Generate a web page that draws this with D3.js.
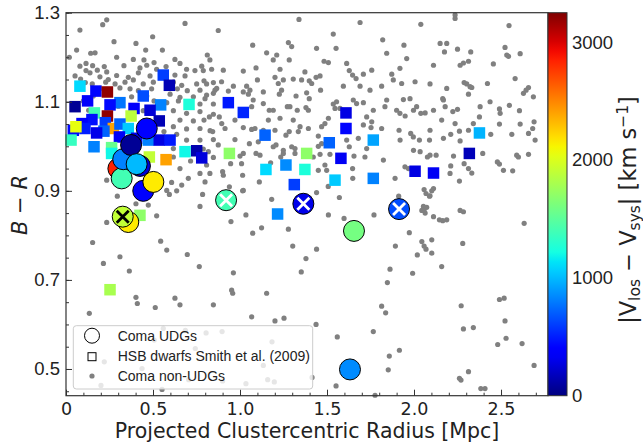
<!DOCTYPE html>
<html>
<head>
<meta charset="utf-8">
<script src="https://cdn.jsdelivr.net/npm/d3@7"></script>
<style>
  body { margin: 0; background: #fff; }
</style>
</head>
<body>
<svg width="643" height="446"></svg>
<script>
// Coma UDGs: radius [Mpc], B-R colour, |Vlos - Vsys| [km/s], cross marker
const udgR     = [0.301, 0.320, 0.329, 0.464, 0.374, 0.425, 0.406, 0.444, 0.502, 0.358, 0.326, 0.920, 1.364, 1.914, 1.655, 1.632];
const udgBR    = [0.950, 0.928, 0.971, 1.040, 1.003, 0.956, 0.960, 0.900, 0.920, 0.830, 0.842, 0.879, 0.871, 0.859, 0.810, 0.499];
const udgDv    = [2850, 1400, 820, 400, 60, 250, 1000, 380, 2150, 2150, 1900, 1400, 300, 650, 1600, 850];
const udgCross = ["", "", "", "", "", "", "", "", "", "", "black", "white", "white", "white", "", ""];

// HSB dwarfs, Smith et al. (2009)
const hsbR  = [0.080, 0.559, 0.594, 0.172, 0.238, 0.124, 0.052, 0.310, 0.444, 0.253, 0.544, 0.707, 0.163, 0.238, 0.391,
               0.374, 0.483, 0.149, 0.092, 0.042, 0.109, 0.226, 0.272, 0.310, 0.358, 0.218, 0.536, 0.029, 0.057, 0.307,
               0.406, 0.473, 0.536, 0.598, 0.161, 0.262, 0.262, 0.684, 0.751, 0.780, 0.479, 0.575, 0.425, 0.253, 0.176,
               0.933, 1.019, 1.144, 0.939, 1.383, 1.149, 1.264, 1.373, 1.312, 1.609, 1.609, 1.513, 1.580, 1.766, 1.546,
               1.766, 2.006, 2.376, 2.318, 2.112, 1.216];
const hsbBR = [1.135, 1.160, 1.137, 1.124, 1.122, 1.102, 1.089, 1.098, 1.113, 1.093, 1.093, 1.094, 1.075, 1.068, 1.085,
               1.068, 1.081, 1.060, 1.051, 1.036, 1.040, 1.053, 1.040, 1.050, 1.040, 1.034, 1.057, 1.014, 1.044, 1.021,
               1.018, 1.014, 1.014, 1.014, 0.999, 0.997, 0.984, 0.988, 0.990, 0.974, 0.976, 0.970, 0.845, 0.678, 1.030,
               1.098, 1.076, 1.025, 0.984, 0.984, 0.948, 0.958, 0.948, 0.914, 1.075, 1.040, 1.008, 0.973, 1.014, 0.924,
               0.928, 0.944, 1.030, 0.984, 0.940, 0.848];
const hsbDv = [1100, 600, 150, 420, 3200, 350, 60, 780, 650, 430, 820, 1250, 1400, 3200, 350,
               1880, 250, 450, 380, 430, 500, 600, 2400, 720, 1050, 720, 150, 1350, 2050, 330,
               300, 820, 280, 480, 820, 1550, 1200, 1200, 130, 260, 1900, 2400, 1700, 1800, 300,
               480, 520, 720, 1700, 1700, 1100, 850, 1250, 600, 280, 420, 720, 330, 930, 1050,
               820, 280, 980, 160, 330, 850];

// Coma non-UDGs: [radius, B-R]
const nonUdg = [
  [0.234,1.284],[0.211,1.273],[0.080,1.261],[0.684,1.276],[0.498,1.246],[0.276,1.235],[0.402,1.231],[0.061,1.216],
  [0.458,1.216],[0.554,1.216],[0.142,1.209],[0.167,1.210],[0.019,1.200],[0.291,1.200],[0.387,1.195],[0.448,1.194],
  [0.506,1.188],[0.626,1.195],[0.080,1.180],[0.115,1.186],[0.153,1.181],[0.180,1.171],[0.115,1.170],[0.138,1.165],
  [0.220,1.179],[0.234,1.167],[0.333,1.181],[0.425,1.176],[0.464,1.182],[0.521,1.173],[0.575,1.179],[0.655,1.186],
  [0.693,1.173],[0.741,1.170],[0.789,1.170],[0.837,1.173],[0.052,1.158],[0.084,1.151],[0.195,1.156],[0.243,1.150],
  [0.291,1.159],[0.358,1.155],[0.416,1.165],[0.483,1.158],[0.626,1.160],[0.684,1.158],[0.111,1.143],[0.151,1.140],
  [0.228,1.144],[0.282,1.140],[0.339,1.144],[0.387,1.149],[0.444,1.140],[0.502,1.144],[0.617,1.144],[0.665,1.137],
  [0.751,1.140],[0.808,1.140],[0.195,1.130],[0.310,1.131],[0.368,1.129],[0.416,1.125],[0.492,1.129],[0.640,1.129],
  [0.697,1.125],[0.770,1.126],[0.847,1.119],[0.157,1.113],[0.377,1.111],[0.464,1.113],[0.598,1.117],[0.655,1.110],
  [0.732,1.111],[0.100,1.102],[0.506,1.102],[0.579,1.098],[0.646,1.102],[0.770,1.095],[0.847,1.095],[0.130,1.081],
  [0.301,1.090],[0.444,1.080],[0.617,1.080],[0.693,1.074],[0.770,1.078],[0.847,1.072],[0.655,1.059],[0.732,1.057],
  [0.793,1.059],[0.617,1.044],[0.693,1.039],[0.770,1.040],[0.828,1.035],[0.563,1.033],[0.636,1.027],[0.693,1.014],
  [0.770,1.014],[0.847,1.015],[0.617,0.995],[0.789,0.994],[0.617,0.976],[0.716,0.967],[0.847,0.975],[0.808,0.958],
  [0.655,0.950],[0.770,0.939],[0.703,0.928],[0.607,0.919],[0.665,0.913],[0.579,0.901],[0.234,0.924],[0.310,0.913],
  [0.521,0.924],
  [1.339,1.285],[1.690,1.278],[0.875,1.260],[1.536,1.252],[1.820,1.239],[1.073,1.227],[1.942,1.227],[1.278,1.233],
  [1.297,1.224],[1.440,1.220],[1.552,1.220],[1.153,1.210],[1.211,1.205],[0.812,1.205],[0.827,1.194],[1.191,1.194],
  [1.283,1.194],[1.483,1.191],[1.508,1.188],[1.843,1.209],[1.958,1.197],[1.613,1.186],[1.628,1.170],[0.780,1.180],
  [0.904,1.171],[1.019,1.169],[1.092,1.176],[1.230,1.173],[1.373,1.167],[1.460,1.158],[1.647,1.160],[1.667,1.152],
  [1.709,1.162],[1.757,1.171],[1.872,1.162],[1.881,1.149],[1.919,1.175],[0.793,1.147],[0.847,1.143],[0.894,1.145],
  [0.962,1.135],[1.038,1.135],[1.057,1.126],[1.048,1.117],[1.019,1.122],[1.100,1.149],[1.201,1.155],[1.220,1.141],
  [1.249,1.149],[1.239,1.126],[1.306,1.151],[1.354,1.149],[1.398,1.147],[1.412,1.141],[1.437,1.155],[1.594,1.135],
  [1.690,1.135],[1.747,1.126],[1.814,1.135],[1.929,1.141],[2.006,1.145],[0.856,1.126],[0.866,1.130],[0.808,1.115],
  [0.799,1.107],[0.933,1.124],[1.134,1.122],[1.226,1.117],[1.322,1.113],[1.383,1.120],[1.398,1.107],[1.463,1.126],
  [1.536,1.095],[1.555,1.100],[1.575,1.085],[1.546,1.085],[1.651,1.104],[1.670,1.096],[1.709,1.098],[1.766,1.081],
  [1.843,1.104],[1.833,1.089],[1.900,1.081],[1.919,1.074],[1.977,1.107],[2.015,1.089],[1.076,1.104],[1.067,1.089],
  [1.134,1.096],[1.168,1.081],[1.191,1.081],[1.272,1.089],[1.287,1.089],[1.329,1.081],[1.379,1.087],[1.393,1.081],
  [0.824,1.066],[0.881,1.066],[0.895,1.051],[0.971,1.059],[1.163,1.059],[1.230,1.063],[1.306,1.059],[1.508,1.063],
  [1.488,1.051],[1.469,1.044],[1.728,1.066],[1.757,1.055],[1.709,1.048],[1.814,1.040],[0.843,1.033],[0.914,1.040],
  [1.019,1.042],[1.067,1.038],[1.086,1.040],[1.134,1.036],[1.201,1.036],[1.264,1.025],[1.283,1.033],[1.345,1.044],
  [1.335,1.033],[1.393,1.040],[1.450,1.023],[1.613,1.014],[1.680,1.018],[1.753,1.042],[1.914,1.036],[1.981,1.029],
  [1.996,1.021],[0.971,1.015],[1.054,1.006],[1.105,1.010],[1.191,0.999],[1.207,1.003],[1.249,0.991],[1.297,0.999],
  [1.316,0.995],[1.450,1.000],[1.469,1.006],[1.628,0.999],[1.728,0.995],[0.818,0.988],[0.875,1.003],[1.019,0.984],
  [1.000,0.978],[1.092,0.984],[1.115,0.980],[1.234,0.976],[1.249,0.984],[1.316,0.984],[1.421,0.976],[1.460,0.982],
  [1.517,0.982],[1.655,0.978],[1.718,0.976],[1.824,0.969],[0.946,0.961],[1.009,0.961],[1.176,0.963],[1.488,0.958],
  [1.498,0.946],[1.647,0.950],[1.948,0.954],[0.827,0.939],[0.900,0.943],[0.904,0.935],[1.111,0.920],[1.450,0.946],
  [1.891,0.928],[1.019,0.901],[0.939,0.909],[0.799,0.920],[1.648,0.928],[1.507,0.910],[1.015,0.935],
  [2.236,1.295],[2.236,1.287],[2.039,1.274],[2.546,1.271],[2.150,1.231],[2.188,1.231],[2.175,1.212],[2.250,1.218],
  [2.326,1.212],[2.523,1.222],[2.533,1.205],[2.543,1.202],[2.610,1.208],[2.112,1.182],[2.265,1.182],[2.284,1.187],
  [2.313,1.191],[2.456,1.185],[2.581,1.152],[2.092,1.140],[2.188,1.130],[2.288,1.143],[2.303,1.140],[2.322,1.134],
  [2.332,1.132],[2.422,1.141],[2.313,1.117],[2.644,1.126],[2.658,1.132],[2.629,1.119],[2.686,1.111],[2.165,1.107],
  [2.169,1.104],[1.939,1.105],[2.437,1.100],[1.997,1.081],[2.112,1.081],[2.179,1.089],[2.250,1.083],[2.223,1.078],
  [2.380,1.089],[2.491,1.084],[2.548,1.092],[2.606,1.080],[1.949,1.068],[2.039,1.074],[2.064,1.075],[2.376,1.066],
  [2.495,1.074],[2.159,1.059],[2.236,1.051],[2.313,1.036],[2.341,1.051],[2.491,1.050],[2.610,1.050],[2.690,1.055],
  [2.682,1.040],[2.092,1.036],[2.211,1.027],[2.261,1.034],[2.441,1.027],[2.562,1.027],[2.658,1.029],[1.920,1.014],
  [2.031,1.014],[2.089,1.014],[2.169,1.018],[2.265,1.012],[2.696,1.014],[1.997,0.991],[2.035,0.988],[2.077,0.976],
  [2.092,0.980],[2.127,0.980],[2.227,0.978],[2.395,0.984],[2.590,0.980],[2.600,0.976],[2.658,0.982],[1.968,0.950],
  [2.211,0.956],[2.288,0.961],[2.479,0.965],[2.491,0.960],[2.207,0.939],[2.313,0.950],[2.332,0.940],[2.514,0.946],
  [2.567,0.945],[2.261,0.922],[2.058,0.903],[2.112,0.905],[2.092,0.889],
  [0.295,0.888],[0.402,0.871],[0.473,0.868],[0.594,0.892],[0.636,0.900],[0.785,0.892],[0.770,0.865],[0.521,0.844],
  [0.234,0.829],[0.153,0.784],[0.544,0.787],[0.579,0.767],[0.697,0.757],[0.310,0.752],[0.215,0.737],[0.364,0.720],
  [0.766,0.730],[0.402,0.661],[0.410,0.647],[0.626,0.659],[0.655,0.644],[0.513,0.638],[0.847,0.644],[0.134,0.625],
  [0.559,0.591],[0.686,0.587],[0.805,0.581],[0.897,0.584],[0.507,0.565],[0.743,0.546],[1.184,0.561],[0.220,0.516],
  [0.437,0.501],[1.134,0.508],[0.201,0.463],[1.034,0.467],[1.159,0.476],[1.197,0.471],[1.414,0.481],[0.900,0.473],
  [0.705,0.476],[0.552,0.454],
  [1.015,0.900],[1.182,0.881],[1.440,0.896],[1.571,0.885],[1.912,0.888],[1.034,0.846],[0.948,0.831],[1.124,0.817],
  [1.073,0.805],[1.278,0.814],[1.508,0.846],[1.598,0.838],[1.770,0.846],[1.973,0.806],[1.303,0.776],[1.440,0.769],
  [1.379,0.748],[1.893,0.776],[2.019,0.756],[0.962,0.716],[1.352,0.718],[1.862,0.724],[1.992,0.715],[1.847,0.694],
  [0.952,0.677],[0.958,0.670],[1.153,0.670],[1.814,0.641],[1.837,0.626],[1.067,0.617],[1.201,0.608],[1.253,0.614],
  [1.437,0.600],[1.559,0.572],[1.766,0.584],[1.916,0.542],[1.858,0.529],[1.852,0.498],[1.552,0.462],[1.776,0.441],
  [2.069,0.894],[2.089,0.888],[2.102,0.900],[2.054,0.865],[2.058,0.857],[2.073,0.863],[2.045,0.856],[2.064,0.850],
  [2.112,0.842],[2.146,0.835],[2.165,0.833],[2.188,0.835],[2.265,0.856],[2.284,0.853],[2.633,0.827],[2.045,0.786],
  [2.058,0.776],[2.069,0.769],[2.102,0.790],[2.280,0.782],[2.102,0.760],[2.159,0.730],[2.491,0.656],[2.518,0.659],
  [2.271,0.642],[2.284,0.590],[2.341,0.593],[2.523,0.608],[2.529,0.569],[2.481,0.555],[2.621,0.557],[2.690,0.508],
  [2.261,0.479],[2.270,0.475],[2.313,0.494],[2.384,0.456],[2.408,0.456]
];

const xTicks = [0, 0.5, 1.0, 1.5, 2.0, 2.5];
const yTicks = [0.5, 0.7, 0.9, 1.1, 1.3];
const cbTicks = [0, 1000, 2000, 3000];

const svg = d3.select("svg");

const x = d3.scaleLinear().domain([0, 2.77]).range([66, 548]);
const y = d3.scaleLinear().domain([0.44, 1.3]).range([395.7, 12.7]);

// jet colormap (matplotlib segment data)
const jetR = d3.scaleLinear().domain([0, 0.35, 0.66, 0.89, 1]).range([0, 0, 1, 1, 0.5]).clamp(true);
const jetG = d3.scaleLinear().domain([0, 0.125, 0.375, 0.64, 0.91, 1]).range([0, 0, 1, 1, 0, 0]).clamp(true);
const jetB = d3.scaleLinear().domain([0, 0.11, 0.34, 0.65, 1]).range([0.5, 1, 1, 0, 0]).clamp(true);
const jet = t => d3.rgb(jetR(t) * 255, jetG(t) * 255, jetB(t) * 255).toString();
const color = d3.scaleSequential(jet).domain([0, 3250]);

const tickFont = "'Liberation Sans', Arial, sans-serif";
const dejavu = "'DejaVu Sans', sans-serif";

// gray points
svg.append("g").selectAll("circle")
    .data(nonUdg)
    .enter()
    .append("circle")
    .attr("cx", d => x(d[0]))
    .attr("cy", d => y(d[1]))
    .attr("r", 2.6)
    .attr("fill", "#808080");

// squares
const sq = 11.5;
svg.append("g").selectAll("rect")
    .data(hsbR.map((r, i) => ({ r: r, br: hsbBR[i], dv: hsbDv[i] })))
    .enter()
    .append("rect")
    .attr("x", d => x(d.r) - sq / 2)
    .attr("y", d => y(d.br) - sq / 2)
    .attr("width", sq)
    .attr("height", sq)
    .attr("fill", d => color(d.dv));

// UDG circles
const udg = svg.append("g").selectAll("g")
    .data(udgR.map((r, i) => ({ r: r, br: udgBR[i], dv: udgDv[i], cross: udgCross[i] })))
    .enter()
    .append("g")
    .attr("transform", d => "translate(" + x(d.r) + "," + y(d.br) + ")");

udg.append("circle")
    .attr("r", 10.5)
    .attr("fill", d => color(d.dv))
    .attr("stroke", "#000")
    .attr("stroke-width", 1);

udg.filter(d => d.cross !== "")
    .append("path")
    .attr("d", "M-6,-6L6,6M-6,6L6,-6")
    .attr("stroke", d => d.cross)
    .attr("stroke-width", 2.8)
    .attr("fill", "none");

// axes: minor then major ticks, pointing inward
const gxMinor = svg.append("g").attr("transform", "translate(0,395.7)")
    .call(d3.axisBottom(x).tickValues(d3.range(0, 28).map(i => i / 10)).tickSize(-3).tickFormat(""));
const gx = svg.append("g").attr("transform", "translate(0,395.7)")
    .call(d3.axisBottom(x).tickValues(xTicks).tickSize(-6).tickPadding(6.5)
        .tickFormat(d => d === 0 ? "0" : d3.format(".1f")(d)));
const gyMinor = svg.append("g").attr("transform", "translate(66,0)")
    .call(d3.axisLeft(y).tickValues(d3.range(9, 27).map(i => i / 20)).tickSize(-3).tickFormat(""));
const gy = svg.append("g").attr("transform", "translate(66,0)")
    .call(d3.axisLeft(y).tickValues(yTicks).tickSize(-6).tickPadding(6).tickFormat(d3.format(".1f")));

[gxMinor, gx, gyMinor, gy].forEach(g => {
    g.select(".domain").remove();
    g.selectAll("line").attr("stroke", "#333");
});
gx.selectAll("text").attr("font-family", dejavu).attr("font-size", "17.5px").attr("fill", "#222");
gy.selectAll("text").attr("font-family", tickFont).attr("font-size", "18.5px").attr("fill", "#222");

// frame
svg.append("rect")
    .attr("x", 66).attr("y", 12.7)
    .attr("width", 482).attr("height", 383)
    .attr("fill", "none")
    .attr("stroke", "#333")
    .attr("stroke-width", 1.2);

// colorbar
const cy = d3.scaleLinear().domain([0, 3250]).range([395.7, 12.7]);
const grad = svg.append("defs").append("linearGradient")
    .attr("id", "jetgrad")
    .attr("x1", 0).attr("y1", 1).attr("x2", 0).attr("y2", 0);
grad.selectAll("stop")
    .data(d3.range(0, 41).map(i => i / 40))
    .enter()
    .append("stop")
    .attr("offset", d => d)
    .attr("stop-color", d => jet(d));

svg.append("rect")
    .attr("x", 548).attr("y", 12.7)
    .attr("width", 19).attr("height", 383)
    .attr("fill", "url(#jetgrad)")
    .attr("stroke", "#333")
    .attr("stroke-width", 1);

svg.append("g").selectAll("text")
    .data(cbTicks)
    .enter()
    .append("text")
    .attr("x", 572)
    .attr("y", d => cy(d))
    .attr("dy", "0.35em")
    .attr("font-family", tickFont)
    .attr("font-size", "18.5px")
    .attr("fill", "#222")
    .text(d => d);

// axis titles
svg.append("text")
    .attr("x", 307).attr("y", 437.5)
    .attr("text-anchor", "middle")
    .attr("font-family", dejavu)
    .attr("font-size", "20.5px")
    .attr("fill", "#222")
    .text("Projected Clustercentric Radius [Mpc]");

const yl = svg.append("text")
    .attr("transform", "translate(26.5,205) rotate(-90)")
    .attr("text-anchor", "middle")
    .attr("font-family", dejavu)
    .attr("font-size", "21px")
    .attr("fill", "#222");
yl.append("tspan").attr("font-style", "italic").text("B");
yl.append("tspan").text(" \u2212 ");
yl.append("tspan").attr("font-style", "italic").text("R");

const cl = svg.append("text")
    .attr("transform", "translate(635.5,210) rotate(-90)")
    .attr("text-anchor", "middle")
    .attr("font-family", dejavu)
    .attr("font-size", "22.5px")
    .attr("fill", "#222");
cl.append("tspan").text("|V");
cl.append("tspan").attr("font-size", "15.5px").attr("dy", 4).text("los");
cl.append("tspan").attr("dy", -4).text(" \u2212 V");
cl.append("tspan").attr("font-size", "15.5px").attr("dy", 4).text("sys");
cl.append("tspan").attr("dy", -4).text("| [km s");
cl.append("tspan").attr("font-size", "15.5px").attr("dy", -8).text("\u22121");
cl.append("tspan").attr("dy", 8).text("]");

// legend
const lg = svg.append("g");
lg.append("rect")
    .attr("x", 73.3).attr("y", 325.7)
    .attr("width", 239.4).attr("height", 63.3)
    .attr("rx", 3)
    .attr("fill", "#fff")
    .attr("fill-opacity", 0.8)
    .attr("stroke", "#ccc");
lg.append("circle").attr("cx", 92).attr("cy", 335.7).attr("r", 7.5)
    .attr("fill", "none").attr("stroke", "#000").attr("stroke-width", 1);
lg.append("rect").attr("x", 88).attr("y", 352.7).attr("width", 8).attr("height", 8)
    .attr("fill", "none").attr("stroke", "#000").attr("stroke-width", 1);
lg.append("circle").attr("cx", 92).attr("cy", 376).attr("r", 2.6).attr("fill", "#808080");
const legendText = ["Coma UDGs", "HSB dwarfs Smith et al. (2009)", "Coma non-UDGs"];
lg.selectAll(".lt")
    .data(legendText)
    .enter()
    .append("text")
    .attr("class", "lt")
    .attr("x", 117.7)
    .attr("y", (d, i) => 340.5 + i * 20.3)
    .attr("font-family", tickFont)
    .attr("font-size", "14px")
    .attr("fill", "#222")
    .text(d => d);
</script>
</body>
</html>
